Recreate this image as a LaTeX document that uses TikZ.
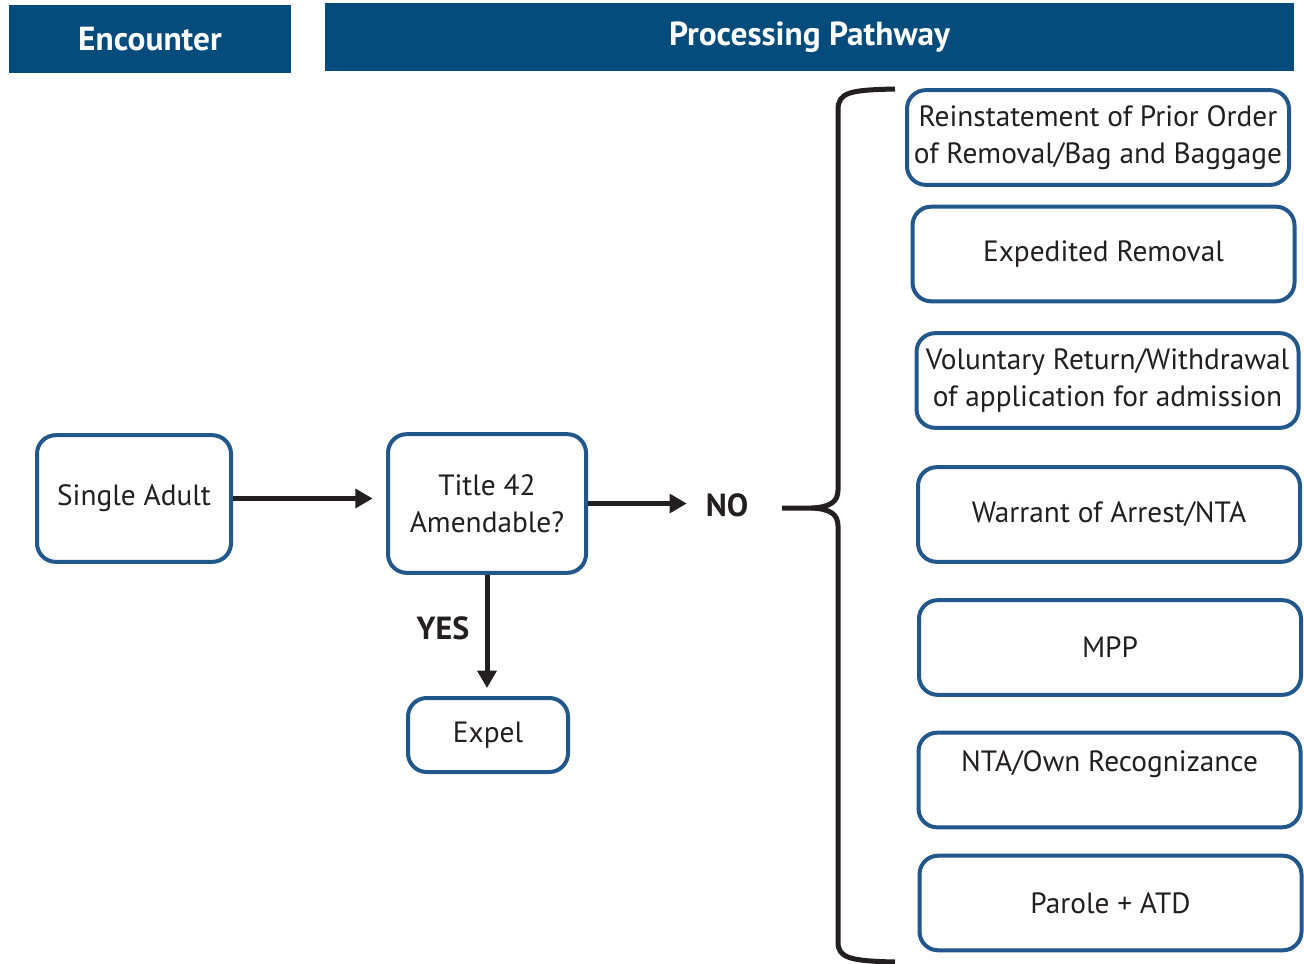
\documentclass[tikz,border=0pt]{standalone}
\usepackage{fontspec}
\setmainfont{PT Sans}
\usepackage{tikz}
\usetikzlibrary{arrows.meta, positioning, calc}
\definecolor{hdrblue}{RGB}{5,76,125}
\definecolor{boxblue}{RGB}{33,87,138}
\definecolor{inkgray}{RGB}{35,31,32}

\begin{document}
\begin{tikzpicture}[x=0.75pt, y=-0.75pt,
    every node/.style={text=inkgray, font=\fontsize{22}{27.75}\selectfont},
    header/.style={fill=hdrblue, text=white, minimum height=51pt, font=\fontsize{25}{28}\selectfont\bfseries},
    stepbox/.style={draw=boxblue, line width=3pt, rounded corners=14pt, fill=white, align=center, inner sep=0pt},
    pathbox/.style={stepbox, minimum width=286.5pt, minimum height=71pt},
    arr/.style={line width=3.75pt, draw=inkgray, -{Triangle[length=13pt, width=14pt]}},
    lbl/.style={font=\fontsize{24}{28}\selectfont\bfseries, inner sep=0pt}]
    \useasboundingbox (0,0) rectangle (1304,964);

    \node[header, minimum width=211.5pt] (enc) at (150,39) {Encounter};
    \node[header, minimum width=726.75pt] (proc) at (809.5,37) {Processing Pathway};

    \node[stepbox, minimum width=145.5pt, minimum height=95pt] (adult) at (134,498.5) {Single Adult};
    \node[stepbox, minimum width=148.5pt, minimum height=104pt] (title) at (487,503.5) {Title 42\\Amendable?};
    \node[stepbox, minimum width=120pt, minimum height=55.5pt] (expel) at (488,735) {Expel};

    \node[lbl] (no) at (727,505) {NO};
    \node[lbl] (yes) at (443,628) {YES};

    \draw[arr, shorten >=10pt] (adult.east) -- (adult.east -| title.west);
    \draw[arr, shorten >=14pt] (title.east) -- (title.east -| no.west);
    \draw[arr, shorten >=6pt] (title.south) -- (title.south |- expel.north);

    \node[pathbox] (reinst) at (1098,137.5) {Reinstatement of Prior Order\\of Removal/Bag and Baggage};
    \node[pathbox] (expedited) at (1103.5,254) {Expedited Removal};
    \node[pathbox] (voluntary) at (1107.5,380.5) {Voluntary Return/Withdrawal\\of application for admission};
    \node[pathbox] (warrant) at (1109,514.5) {Warrant of Arrest/NTA};
    \node[pathbox] (mpp) at (1110,647.5) {MPP};
    \node[pathbox] (ownrec) at (1109.5,780) {NTA/Own Recognizance\\\mbox{}};
    \node[pathbox] (parole) at (1110.5,903) {Parole + ATD};

    \coordinate (brtop) at (895,89);
    \coordinate (brtip) at (782,508);
    \coordinate (brbot) at (895,962);
    \draw[line width=3.75pt, draw=inkgray]
        (brtop) .. controls (850,90) and (838,92) .. (838,110) -- (838,490)
        .. controls (838,502) and (830,507) .. (812,508) -- (brtip);
    \draw[line width=3.75pt, draw=inkgray]
        (812,508) .. controls (830,509) and (838,514) .. (838,526) -- (838,942)
        .. controls (838,958) and (850,961) .. (brbot);
\end{tikzpicture}
\end{document}
